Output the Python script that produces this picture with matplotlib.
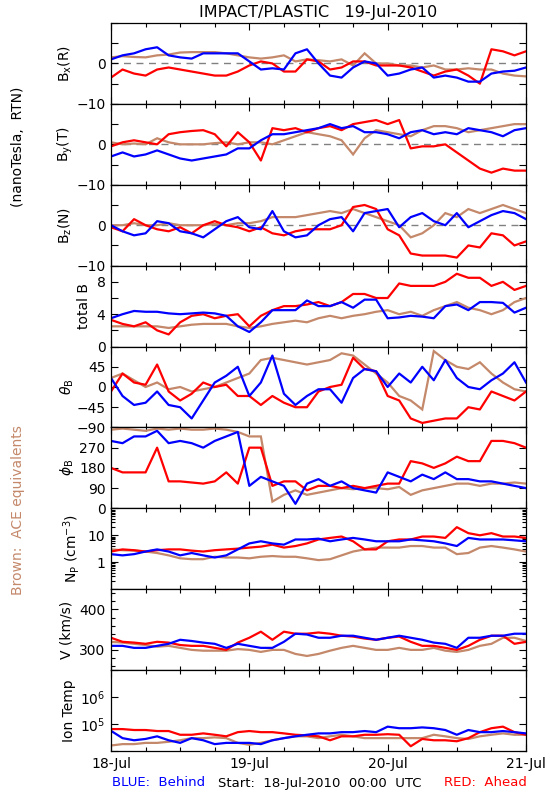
import numpy as np
import matplotlib
matplotlib.use('Agg')
import matplotlib.pyplot as plt
from matplotlib.ticker import FixedLocator, FixedFormatter, NullFormatter, LogLocator

# ---------------- data (2-hour samples) ----------------
hours = list(range(0, 73, 2))

bx_blue = [1, 2, 2.5, 3.5, 4, 2, 1.5, 1.2, 2.5, 2.5, 2.5, 2.5, 0.5, -1.5, -1.2, -1.5, 2.5, 3.5, 0, -3,
           -3.5, -1, 0.5, 0, -3, -2.5, -1.5, -1, -3.5, -3, -3.5, -4.5, -4.5, -2.5, -2, -1.8, -1]
bx_red = [-3.5, -1.5, -2.5, -3, -1.5, -1, -1.5, -2, -2.5, -3, -3, -2, -0.5, 0.5, 0, -2, -2, 1, 0.5, -1.5,
          -1, 0.5, 0.5, -0.5, -0.5, -0.5, -1, -2, -3, -2, -1.5, -3, -5, 3.5, 3, 2, 3]
bx_brown = [1.5, 1.8, 1.6, 1.5, 2, 2.2, 2.7, 2.8, 2.8, 2.8, 2.5, 2, 1.5, 1.2, 1.5, 2, 0.5, 1, 0.8, 0.5,
            1, -0.5, 2.5, 0, 0, -0.5, -0.5, -1, -0.5, -1.5, -1.5, -1.2, -1.5, -1.5, -2.5, -3, -3.2]

by_blue = [-3, -2, -3, -2.5, -1.5, -2.5, -3.5, -4, -3.5, -3, -2.5, -1, -1, 1, 2.5, 2.5, 3, 3.5, 4, 5,
           4, 4.5, 3, 3, 2.5, 1.5, 3, 3.5, 2.5, 3, 2.5, 4, 3.5, 3, 2, 3.5, 4]
by_red = [-0.5, 0.5, 1, 0.5, 0, 2.5, 3, 3.3, 3.5, 2.5, -0.5, 3, 0.5, -4, 4, 3.5, 4, 3, 4, 4.5,
          3.5, 5, 5.5, 6, 5, 6, -1, -0.5, -0.5, 0, -2, -4, -6, -7, -6, -6.5, -6.5]
by_brown = [0.5, 0, 0.2, 0, 1.5, 0.5, 0, 0, 0, 0.3, 0.5, 0, 0.5, 0.5, 0, 1, 2, 3, 2.5, 2,
            1, -2.5, 1.5, 3.5, 3, 2.5, 2, 3.5, 4.5, 4.5, 4, 3, 3.5, 4, 4.5, 5, 5]

bz_blue = [0, -1.5, -2.5, -2, 1, 0.5, -1.5, -2, -3, -1, 1, 2, -0.5, -1, 3.5, -1.5, -3, -2.5, 0, 1.5,
           2, -1.5, 3, 3.5, 4, -0.5, 2, 3, 1, 0, 3, -0.5, 1, 2.5, 3.5, 3, 1.5]
bz_red = [-0.5, -1.5, 1.5, 0, -1, -1.5, -0.5, -2, 0, 1, 0, -0.5, -1.5, -0.5, -2, -2.5, -1.5, -1, -1, -1,
          0, 4.5, 5, 4, -1, -2.5, -7, -7.5, -7.5, -7.5, -8, -5, -5.5, -2, -2.5, -5, -4]
bz_brown = [0, 0, 0.5, 0, 0, 0.5, 0, 0, 0, 0.3, 0, 0.5, 0.5, 1, 2, 2, 2, 2.5, 3, 3.5,
            3, 4, 3, 2, 1, 0, -3, -2, 0, 3, 2, 4, 3, 4, 5, 4, 3]

tb_blue = [3.5, 4, 4.4, 4.3, 4.3, 4.1, 4, 4.1, 4.2, 4.1, 3.8, 2.5, 1.8, 3, 4.5, 4.5, 4.5, 5.7, 5, 5,
           5.5, 4.8, 5.8, 5.8, 3.5, 3.6, 3.8, 3.7, 3.5, 5, 5.2, 4.5, 5.5, 5.5, 5.4, 4.2, 4.8]
tb_red = [3.3, 2.8, 2.5, 3, 2, 1.5, 3, 3.8, 4, 3.5, 3.8, 4, 2.5, 3.8, 4.5, 5, 5, 5.2, 5.5, 5,
          5.5, 6.5, 6.5, 6, 6, 7.8, 7.5, 7.5, 7.5, 8, 9, 8.5, 8.5, 7.5, 8, 7, 7.5]
tb_brown = [2.5, 2.5, 2.5, 2.5, 2.5, 2.3, 2.5, 2.7, 2.8, 2.8, 2.8, 2.5, 2.3, 2.5, 2.8, 3, 3.2, 3, 3.5, 3.8,
            3.5, 3.8, 4, 4.3, 4.5, 4, 4.3, 3.8, 4.5, 5, 5.5, 4.8, 4.5, 4, 4.5, 5.5, 6]

th_blue = [20, -20, -40, -35, -10, -40, -45, -70, -30, 10, 25, 45, -20, 10, 70, -15, -40, -20, -5, -5,
           -35, 20, 40, 35, 0, 30, 10, 45, 15, 60, 20, 0, -5, 15, 30, 55, 10]
th_red = [-10, 30, 10, 5, 50, -10, -30, -15, 10, 0, 5, -20, -20, -40, -20, -35, -45, -45, -10, 0,
          5, 65, 40, 35, -20, -30, -70, -80, -75, -70, -70, -45, -50, -10, -20, -30, -10]
th_brown = [20, 30, 15, 0, 10, -5, 0, -10, -5, 0, 10, 20, 30, 60, 65, 60, 55, 50, 55, 60,
            75, 70, 50, 30, 10, -20, -30, -50, 80, 60, 45, 40, 55, 30, 10, -5, -10]

ph_blue = [300, 290, 320, 320, 345, 290, 300, 290, 270, 300, 320, 340, 100, 140, 120, 100, 20, 110, 130, 100,
           120, 90, 80, 70, 160, 140, 120, 150, 130, 160, 130, 130, 120, 120, 110, 100, 90]
ph_red = [180, 160, 160, 160, 270, 120, 120, 115, 110, 120, 160, 110, 270, 270, 100, 120, 120, 80, 100, 100,
          90, 100, 90, 100, 110, 110, 210, 200, 180, 200, 230, 210, 210, 300, 300, 290, 270]
ph_brown = [350, 355, 350, 345, 355, 350, 355, 350, 350, 355, 350, 340, 320, 320, 30, 60, 80, 60, 70, 80,
            90, 85, 90, 90, 85, 95, 60, 80, 90, 100, 110, 110, 100, 110, 110, 115, 110]

np_blue = [2, 1.8, 2, 2.5, 3, 2.5, 1.8, 2.2, 1.8, 1.5, 1.8, 3, 5, 6, 5, 4.5, 7, 7, 7.5, 6,
           7, 8, 7, 6, 6, 6, 7, 6.5, 6, 5, 4, 8, 7, 7, 7, 6.5, 6]
np_red = [2.5, 3, 2.8, 2.5, 2.8, 3, 3, 2.7, 2.5, 2.8, 3, 3.2, 3.5, 3.8, 4.5, 3.5, 4, 5, 7, 8,
          9, 6, 3, 3, 6, 7, 7, 9, 9, 8, 20, 12, 10, 12, 9, 9, 8]
np_brown = [3, 2.8, 2.7, 2.5, 2.2, 1.8, 1.4, 1.3, 1.3, 1.6, 1.5, 1.5, 1.4, 1.6, 1.7, 1.6, 1.6, 1.4, 1.2, 1.3,
            1.8, 2.5, 3, 3.5, 3.5, 3.5, 4, 4, 3.5, 3.5, 2, 2.2, 3.5, 4, 3.5, 3, 2.5]

v_blue = [310, 310, 305, 305, 310, 315, 325, 322, 318, 315, 305, 315, 310, 305, 305, 320, 340, 338, 330, 330,
          335, 335, 330, 325, 330, 335, 330, 325, 318, 315, 305, 330, 330, 335, 335, 340, 340]
v_red = [330, 320, 318, 315, 320, 318, 312, 310, 310, 305, 300, 318, 330, 345, 325, 345, 340, 340, 343, 340,
         335, 333, 328, 325, 330, 333, 320, 310, 310, 305, 300, 310, 325, 335, 335, 315, 320]
v_brown = [320, 318, 315, 312, 308, 310, 305, 300, 298, 298, 298, 302, 300, 295, 300, 300, 290, 285, 290, 298,
           305, 310, 305, 300, 300, 305, 300, 300, 305, 298, 295, 300, 310, 315, 330, 330, 322]

t_blue = [5.6e4, 3e4, 2.5e4, 2.8e4, 3.5e4, 2.5e4, 2e4, 3e4, 2.5e4, 1.8e4, 2e4, 2e4, 2e4, 1.8e4, 2.5e4,
          3e4, 3.5e4, 4e4, 4.5e4, 4.5e4, 5e4, 5e4, 5.5e4, 5e4, 8e4, 7e4, 7e4, 7.5e4, 7e4, 6e4,
          4e4, 6e4, 5e4, 5e4, 5.5e4, 5e4, 4.5e4]
t_red = [6.5e4, 6.5e4, 6e4, 6e4, 5.5e4, 5.5e4, 4e4, 4e4, 4.5e4, 4e4, 3.5e4, 5e4, 5.5e4, 5e4, 5e4,
         4.5e4, 4e4, 3.8e4, 3.5e4, 2.5e4, 3.5e4, 3.5e4, 4e4, 4e4, 4.2e4, 4e4, 1.5e4, 2.8e4, 2.5e4, 2.5e4,
         2.3e4, 3e4, 5e4, 7e4, 8e4, 5e4, 4e4]
t_brown = [1.6e4, 1.8e4, 1.8e4, 2e4, 2e4, 2.2e4, 2.5e4, 3e4, 3e4, 3.2e4, 3e4, 2e4, 1.7e4, 2e4, 2.5e4,
           3e4, 3.5e4, 3.5e4, 3e4, 3.5e4, 4e4, 3.5e4, 3e4, 3e4, 3e4, 3e4, 3e4, 3e4, 4e4, 3.5e4,
           3e4, 2.8e4, 3.5e4, 4e4, 4.5e4, 4e4, 4e4]

day_labels = ['18-Jul', '19-Jul', '20-Jul', '21-Jul']
panel_labels = [r'$\mathregular{B_x(R)}$', r'$\mathregular{B_y(T)}$', r'$\mathregular{B_z(N)}$',
                'total B', r'$\theta_\mathregular{B}$', r'$\phi_\mathregular{B}$',
                r'$\mathregular{N_P\ (cm^{-3})}$', 'V (km/s)', 'Ion Temp']

# ---------------- styling ----------------
BLUE = '#0000ff'
RED = '#ff0000'
BROWN = '#c4886a'
plt.rcParams['font.family'] = ['DejaVu Sans']
plt.rcParams['mathtext.fontset'] = 'dejavusans'

W, H = 550, 800
fig = plt.figure(figsize=(5.5, 8), dpi=100)
left_px, right_px, top_px, bot_px = 111, 526, 23, 751
ph = (bot_px - top_px) / 9.0

panels = [
    (bx_blue, bx_red, bx_brown), (by_blue, by_red, by_brown), (bz_blue, bz_red, bz_brown),
    (tb_blue, tb_red, tb_brown), (th_blue, th_red, th_brown), (ph_blue, ph_red, ph_brown),
    (np_blue, np_red, np_brown), (v_blue, v_red, v_brown), (t_blue, t_red, t_brown),
]
label_x = [65, 65, 65, 84, 67, 67, 72, 67, 69]

for i, (sb, sr, sn) in enumerate(panels):
    y0 = top_px + i * ph
    ax = fig.add_axes([left_px / W, 1 - (y0 + ph) / H, (right_px - left_px) / W, ph / H])
    ax.plot(hours, sn, color=BROWN, lw=1.6, solid_joinstyle='miter')
    ax.plot(hours, sr, color=RED, lw=1.6)
    ax.plot(hours, sb, color=BLUE, lw=1.6)
    ax.set_xlim(0, 72)
    ax.xaxis.set_major_locator(FixedLocator([0, 24, 48, 72]))
    ax.xaxis.set_minor_locator(FixedLocator([6, 12, 18, 30, 36, 42, 54, 60, 66]))
    if i == 8:
        ax.set_xticklabels(day_labels)
    else:
        ax.set_xticklabels([])
    if i < 3:
        ax.set_ylim(-10, 10)
        ax.axhline(0, color='#808080', lw=1.0, ls=(0, (5, 4)), zorder=0)
        ax.yaxis.set_major_locator(FixedLocator([-10, -5, 0, 5, 10]))
        ax.set_yticklabels(['\u221210', '', '0', '', ''])
    elif i == 3:
        ax.set_ylim(0, 10)
        ax.yaxis.set_major_locator(FixedLocator([0, 2, 4, 6, 8, 10]))
        ax.set_yticklabels(['0', '', '4', '', '8', ''])
    elif i == 4:
        ax.set_ylim(-90, 90)
        ax.yaxis.set_major_locator(FixedLocator([-90, -45, 0, 45, 90]))
        ax.set_yticklabels(['\u221290', '\u221245', '0', '45', ''])
    elif i == 5:
        ax.set_ylim(0, 360)
        ax.yaxis.set_major_locator(FixedLocator([0, 90, 180, 270, 360]))
        ax.set_yticklabels(['0', '90', '180', '270', ''])
    elif i == 6:
        ax.set_yscale('log')
        ax.set_ylim(0.1, 100)
        ax.yaxis.set_major_locator(FixedLocator([0.1, 1, 10, 100]))
        ax.yaxis.set_major_formatter(FixedFormatter(['', '1', '10', '']))
        ax.yaxis.set_minor_locator(LogLocator(base=10, subs=np.arange(2, 10)))
        ax.yaxis.set_minor_formatter(NullFormatter())
    elif i == 7:
        ax.set_ylim(250, 450)
        ax.yaxis.set_major_locator(FixedLocator([300, 400]))
        ax.set_yticklabels(['300', '400'])
        ax.yaxis.set_minor_locator(FixedLocator([260, 280, 320, 340, 360, 380, 420, 440]))
    else:
        ax.set_yscale('log')
        ax.set_ylim(1e4, 1e7)
        ax.yaxis.set_major_locator(FixedLocator([1e4, 1e5, 1e6, 1e7]))
        ax.yaxis.set_major_formatter(FixedFormatter(['', r'$10^5$', r'$10^6$', '']))
        ax.yaxis.set_minor_locator(FixedLocator([]))
    ax.tick_params(which='major', direction='in', top=True, right=True, length=5, width=0.8,
                   labelsize=10, pad=4)
    ax.tick_params(which='minor', direction='in', top=True, right=True, length=3, width=0.8)
    for s in ax.spines.values():
        s.set_linewidth(0.9)
    fig.text(label_x[i] / W, 1 - (y0 + ph / 2) / H, panel_labels[i], rotation=90,
             ha='center', va='center', fontsize=10)

fig.text(318 / W, 1 - 12 / H, 'IMPACT/PLASTIC   19-Jul-2010', ha='center', va='center', fontsize=11.5)
fig.text(18 / W, 1 - 147 / H, '(nanoTesla,  RTN)', rotation=90, ha='center', va='center', fontsize=10)
fig.text(18 / W, 1 - 510 / H, 'Brown:  ACE equivalents', rotation=90, ha='center', va='center',
         fontsize=10, color=BROWN)
fig.text(112 / W, 1 - 783 / H, 'BLUE:  Behind', ha='left', va='center', fontsize=9.5, color=BLUE)
fig.text(320 / W, 1 - 783 / H, 'Start:  18-Jul-2010  00:00  UTC', ha='center', va='center', fontsize=9.5)
fig.text(527 / W, 1 - 783 / H, 'RED:  Ahead', ha='right', va='center', fontsize=9.5, color=RED)

fig.savefig('out.png', dpi=100)
